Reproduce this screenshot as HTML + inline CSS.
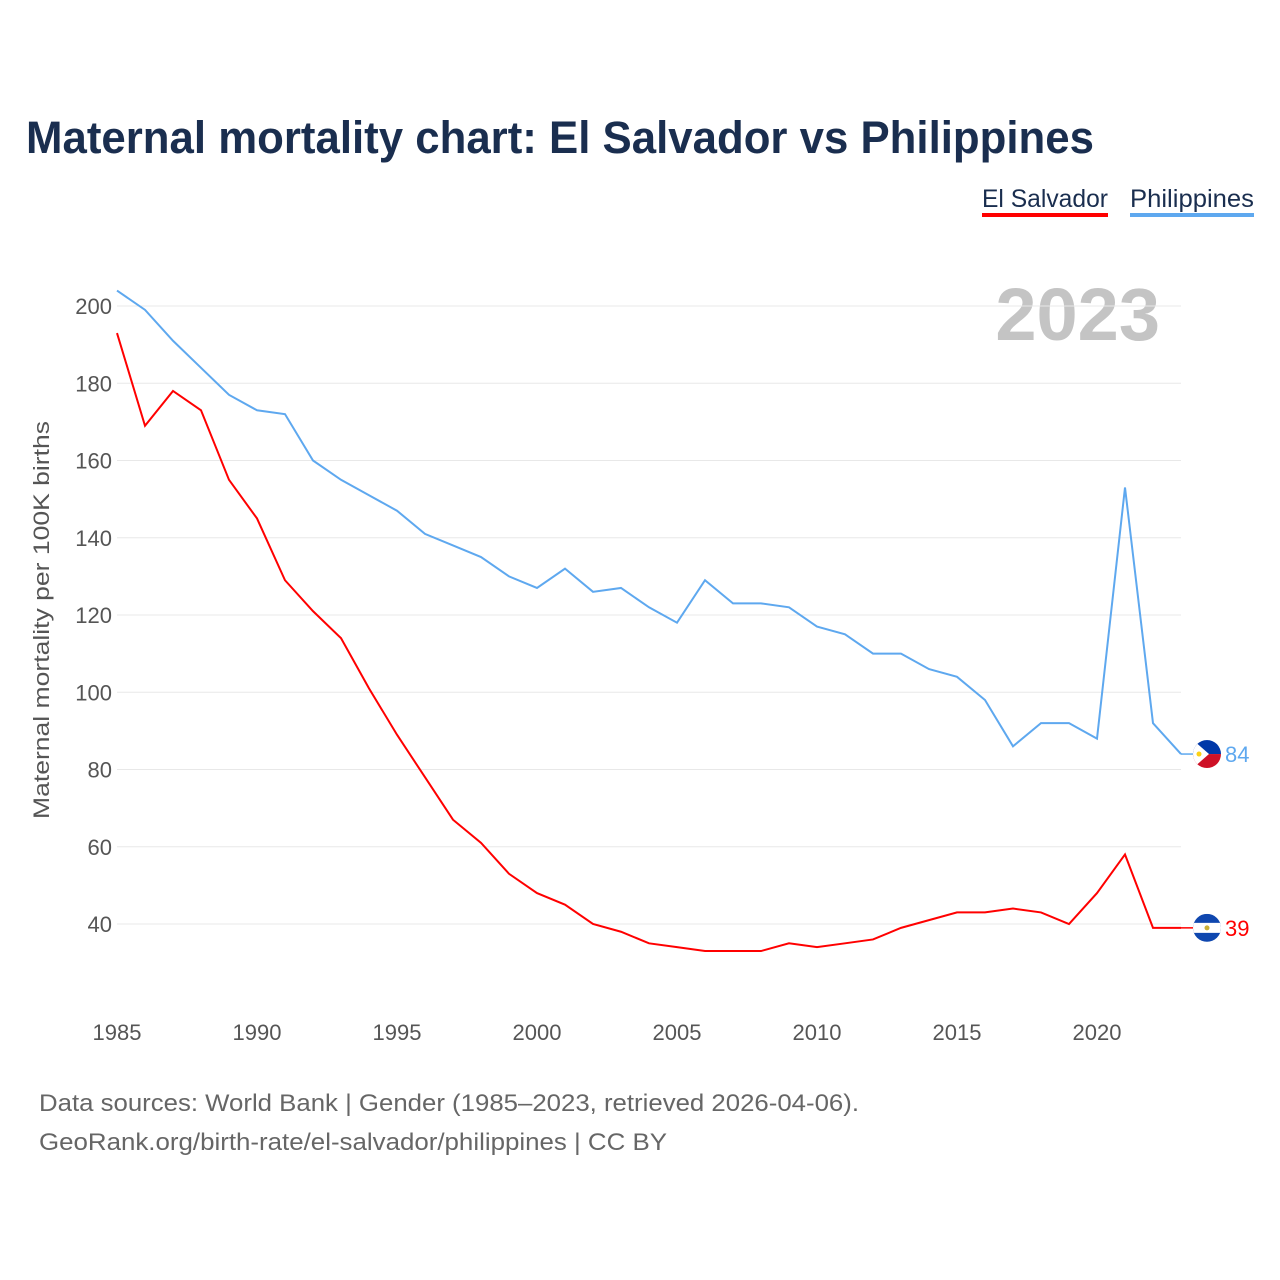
<!DOCTYPE html>
<html><head><meta charset="utf-8">
<style>
body{margin:0;background:#fff;font-family:"Liberation Sans",sans-serif;}
#wrap{position:relative;width:1280px;height:1280px;overflow:hidden;}
</style></head>
<body>
<div id="wrap">
<svg id="chart" width="1280" height="1280"></svg>
</div>
<script>
const years=[1985,1986,1987,1988,1989,1990,1991,1992,1993,1994,1995,1996,1997,1998,1999,2000,2001,2002,2003,2004,2005,2006,2007,2008,2009,2010,2011,2012,2013,2014,2015,2016,2017,2018,2019,2020,2021,2022,2023];
const philippines=[204,199,191,184,177,173,172,160,155,151,147,141,138,135,130,127,132,126,127,122,118,129,123,123,122,117,115,110,110,106,104,98,86,92,92,88,153,92,84];
const elSalvador=[193,169,178,173,155,145,129,121,114,101,89,78,67,61,53,48,45,40,38,35,34,33,33,33,35,34,35,36,39,41,43,43,44,43,40,48,58,39,39];
const yTicks=[40,60,80,100,120,140,160,180,200];
const xTicks=[1985,1990,1995,2000,2005,2010,2015,2020];

const NS="http://www.w3.org/2000/svg";
const svg=document.getElementById('chart');
const x=v=>117+(v-1985)*28;
const y=v=>924-(v-40)*3.8625;
function mk(tag,attrs,txt){const e=document.createElementNS(NS,tag);for(const k in attrs)e.setAttribute(k,attrs[k]);if(txt!==undefined)e.textContent=txt;svg.appendChild(e);return e;}

let t=mk('text',{x:26,y:153,'font-size':45,'font-weight':'bold',fill:'#1a2e4f',textLength:1068,lengthAdjust:'spacingAndGlyphs'},'Maternal mortality chart: El Salvador vs Philippines');



t=mk('text',{x:982,y:207,'font-size':25,fill:'#1a2e4f',textLength:126,lengthAdjust:'spacingAndGlyphs'},'El Salvador');


let r=mk('rect',{x:982,y:213,width:126,height:4,fill:'#ff0000'});


t=mk('text',{x:1130,y:207,'font-size':25,fill:'#1a2e4f',textLength:124,lengthAdjust:'spacingAndGlyphs'},'Philippines');


r=mk('rect',{x:1130,y:213,width:124,height:4,fill:'#5ea8ef'});



t=mk('text',{x:1160,y:340,'font-size':74,'font-weight':'bold',fill:'#c4c4c4','text-anchor':'end'},'2023');



yTicks.forEach(v=>{
  const l=mk('line',{x1:117,x2:1181,y1:y(v),y2:y(v),stroke:'#e8e8e8','stroke-width':1});
  
  
  const tt=mk('text',{x:112,y:y(v)+8,'font-size':22,fill:'#555','text-anchor':'end'},v);
  
  
});
xTicks.forEach(v=>{
  const tt=mk('text',{x:x(v),y:1040,'font-size':22,fill:'#555','text-anchor':'middle'},v);
  
  
});
t=mk('text',{x:0,y:0,'font-size':22,fill:'#555','text-anchor':'middle',transform:'translate(49,620) rotate(-90)',textLength:398,lengthAdjust:'spacingAndGlyphs'},'Maternal mortality per 100K births');



function line(data,color,name){
  const d=data.map((v,i)=>(i?'L':'M')+x(years[i])+','+y(v)).join(' ');
  const p=mk('path',{d:d,fill:'none',stroke:color,'stroke-width':2});
  
  
}
line(philippines,'#5ea8ef','philippines-line');
line(elSalvador,'#ff0000','el-salvador-line');

function endMark(data,color,name,flag){
  const v=data[data.length-1], yy=y(v);
  const l=mk('line',{x1:1181,x2:1195,y1:yy,y2:yy,stroke:color,'stroke-width':1.5});
  
  
  const g=document.createElementNS(NS,'g');svg.appendChild(g);
  
  
  const cx=1207;
  if(flag==='ph'){
    g.innerHTML=`<clipPath id="cph"><circle cx="${cx}" cy="${yy}" r="14"/></clipPath><g clip-path="url(#cph)"><rect x="${cx-14}" y="${yy-14}" width="28" height="14" fill="#0038a8"/><rect x="${cx-14}" y="${yy}" width="28" height="14" fill="#ce1126"/><polygon points="${cx-14},${yy-14} ${cx+2},${yy} ${cx-14},${yy+14}" fill="#fff"/><circle cx="${cx-8}" cy="${yy}" r="2.5" fill="#fcd116"/></g>`;
  }else{
    g.innerHTML=`<clipPath id="csv"><circle cx="${cx}" cy="${yy}" r="14"/></clipPath><g clip-path="url(#csv)"><rect x="${cx-14}" y="${yy-14}" width="28" height="28" fill="#0f47af"/><rect x="${cx-14}" y="${yy-5}" width="28" height="10" fill="#fff"/><circle cx="${cx}" cy="${yy}" r="2.5" fill="#c9b037"/></g>`;
  }
  const tt=mk('text',{x:1225,y:yy+8,'font-size':22,fill:color},v);
  
  
}
endMark(philippines,'#5ea8ef','philippines','ph');
endMark(elSalvador,'#ff0000','el-salvador','sv');

t=mk('text',{x:39,y:1111,'font-size':24,fill:'#666',textLength:820,lengthAdjust:'spacingAndGlyphs'},'Data sources: World Bank | Gender (1985–2023, retrieved 2026-04-06).');


t=mk('text',{x:39,y:1150,'font-size':24,fill:'#666',textLength:628,lengthAdjust:'spacingAndGlyphs'},'GeoRank.org/birth-rate/el-salvador/philippines | CC BY');


</script>
</body></html>
